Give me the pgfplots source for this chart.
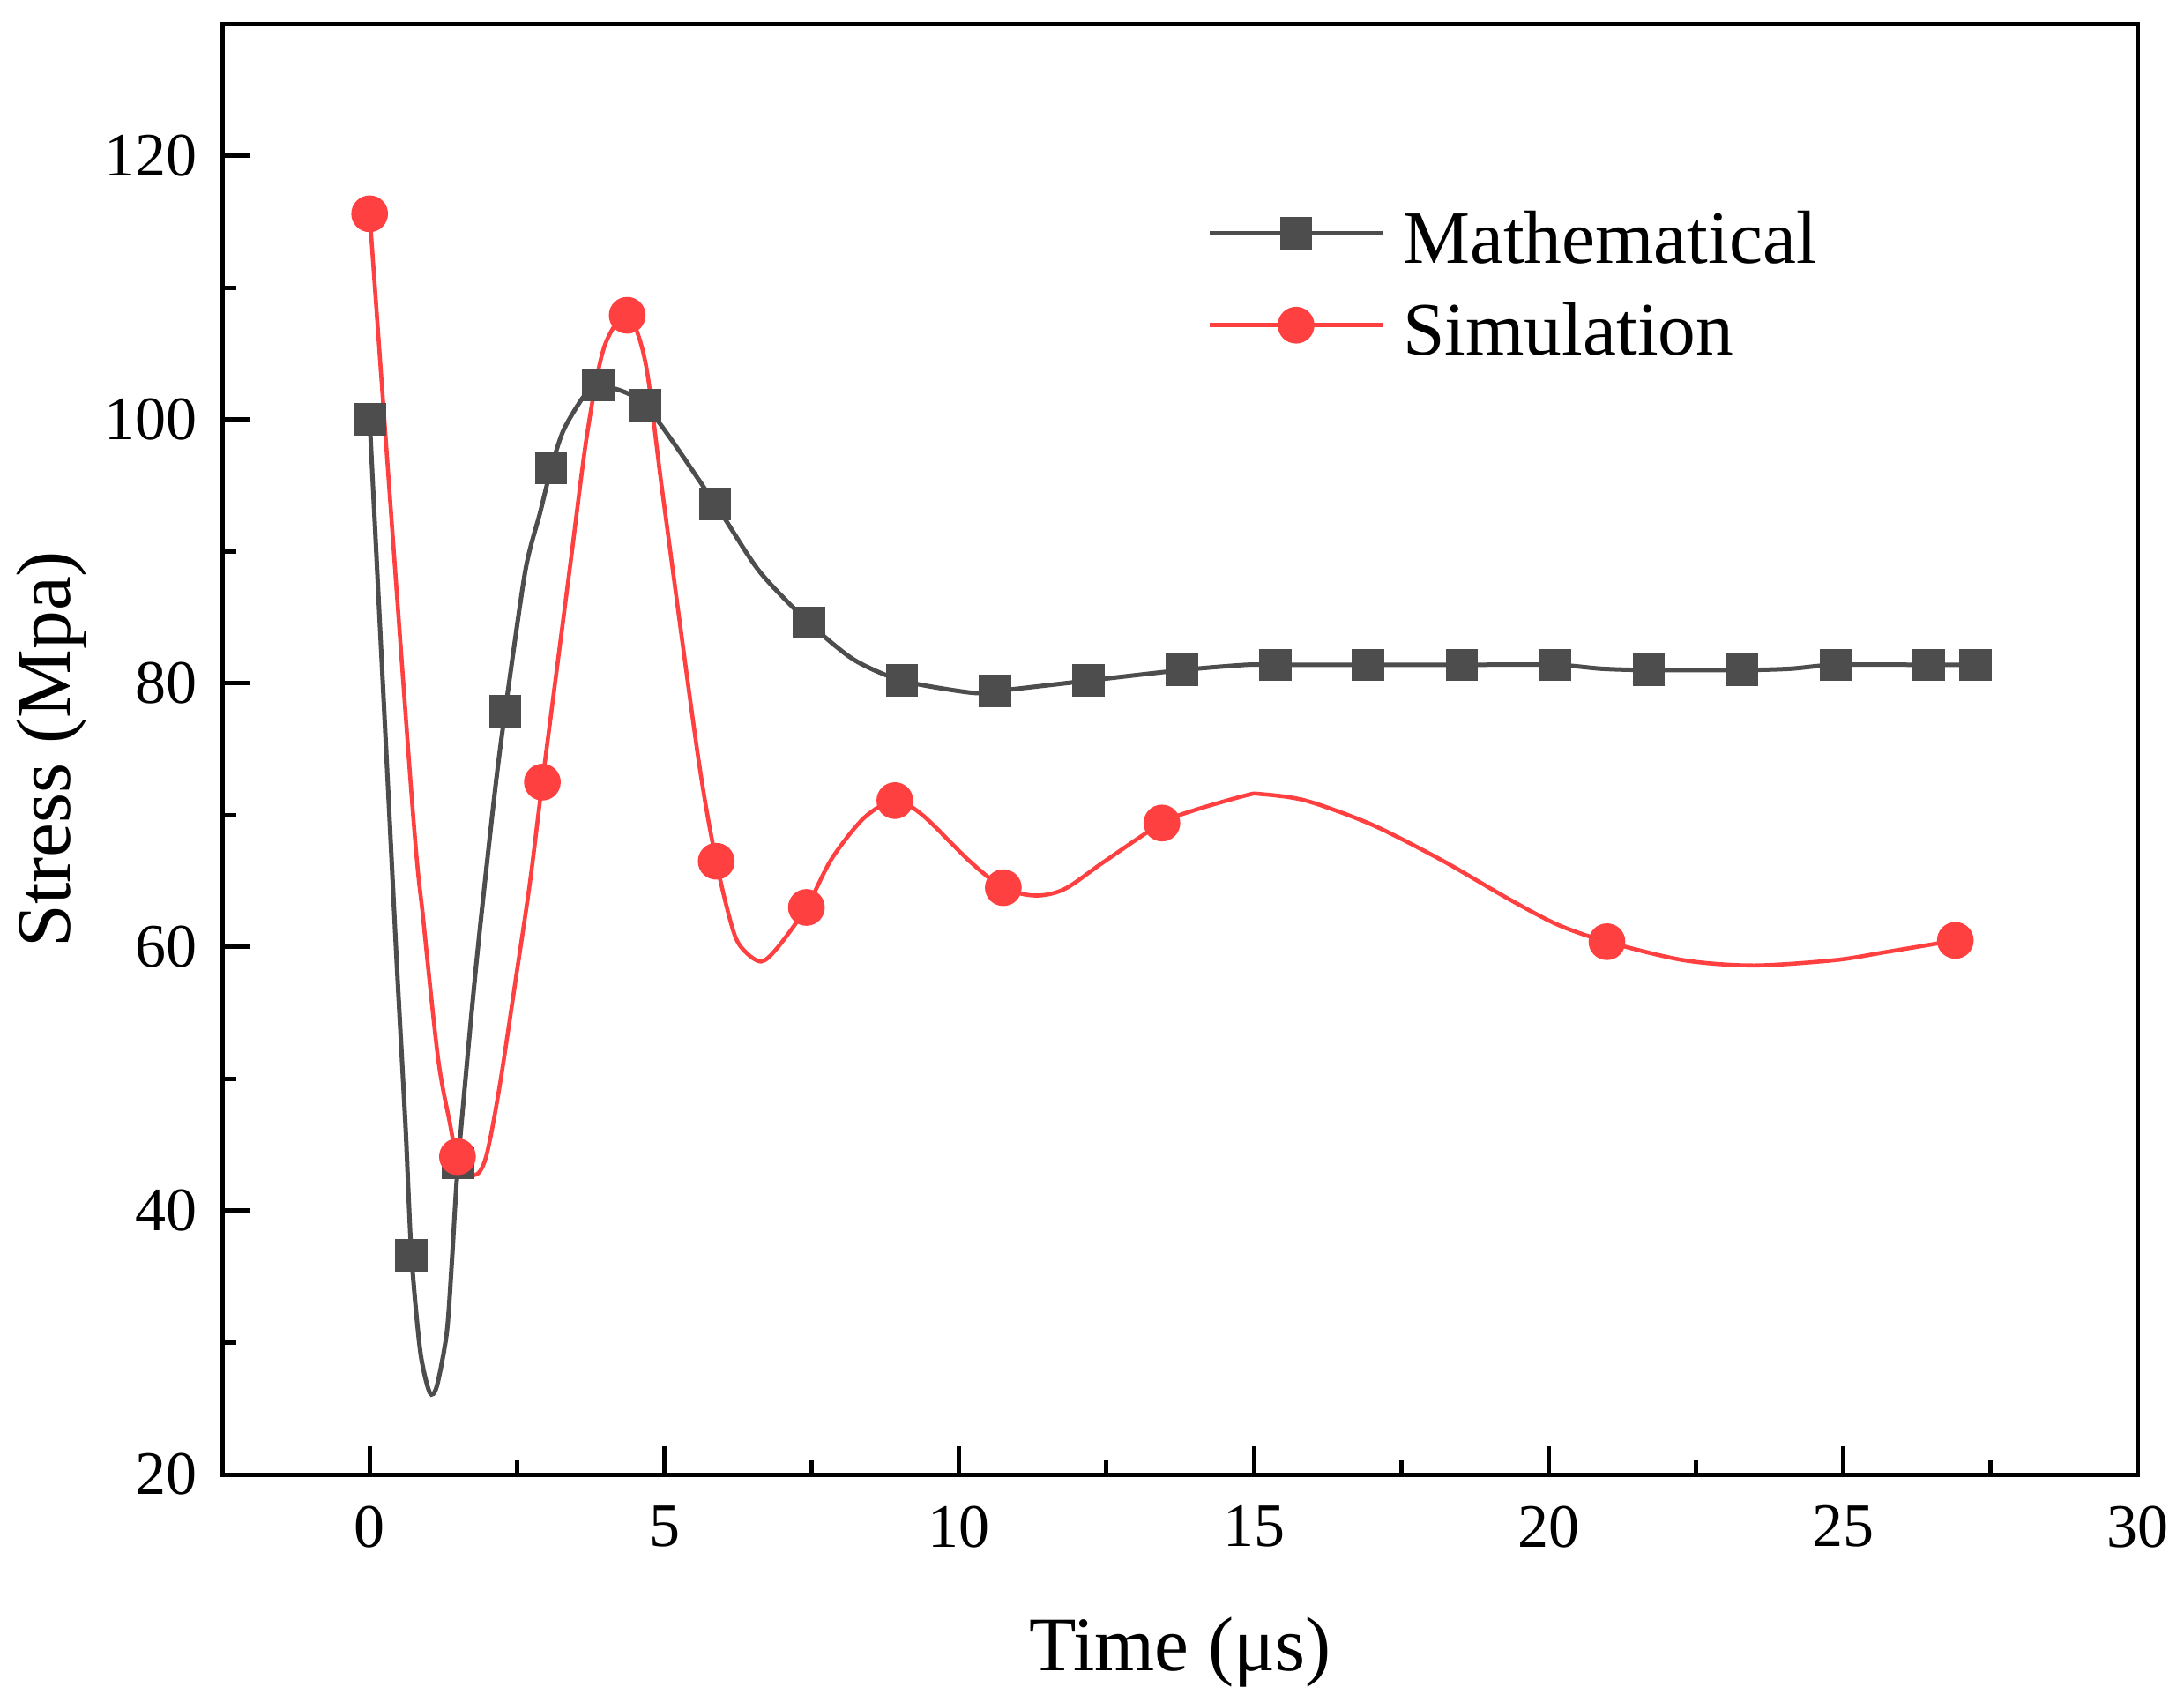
\documentclass[border=0pt]{standalone}
\usepackage{fontspec}
\setmainfont{Liberation Serif}
\usepackage{pgfplots}
\pgfplotsset{compat=1.18}
\definecolor{mgray}{RGB}{77,77,77}
\definecolor{mred}{RGB}{255,64,64}
\pgfplotsset{
  mathleg/.style={legend image code/.code={\draw[mgray,line width=1.2pt] (0pt,6.7pt)--(47pt,6.7pt);
    \draw[##1] plot coordinates {(23.5pt,6.7pt)};}},
  simleg/.style={legend image code/.code={\draw[mred,line width=1.1pt] (0pt,6.7pt)--(47pt,6.7pt);
    \draw[##1] plot coordinates {(23.5pt,6.7pt)};}},
}
\begin{document}
\begin{tikzpicture}
\begin{axis}[name=ax,
  width=521.5pt, height=394.8pt, scale only axis,
  xmin=-2.5, xmax=30, ymin=20, ymax=130,
  xtick={0,5,...,30}, ytick={20,40,...,120},
  minor x tick num=1, minor y tick num=1,
  tick pos=left, tick align=inside,
  major tick length=7.7pt, minor tick length=3.9pt,
  axis line style={line width=1.2pt},
  every tick/.append style={line width=1.2pt, black},
  /pgf/number format/assume math mode=true,
  xticklabel style={font=\fontsize{16.8}{20}\selectfont, yshift=-5pt},
  yticklabel style={font=\fontsize{16.8}{20}\selectfont, xshift=-3.4pt},
  xlabel={Time (μs)}, ylabel={Stress (Mpa)},
  label style={font=\fontsize{21}{25}\selectfont},
  xlabel style={at={([yshift=-53.5pt]axis description cs:0.5,0)}, anchor=base},
  ylabel style={at={([xshift=-41.5pt]axis description cs:0,0.5)}, anchor=base},
  legend style={draw=none, fill=none, at={(0.5139,0.8708)}, anchor=north west,
    inner sep=0pt, row sep=0pt, column sep=5.0pt,
    font=\fontsize{20.5}{24}\selectfont,
    nodes={inner sep=0pt, text height=14pt, text depth=11pt}},
  legend cell align=left,
]
% Mathematical line
\addplot[mgray, line width=1.2pt, smooth, tension=0.45, forget plot] coordinates {
(0,100) (0.31,72.3) (0.46,58.8) (0.61,46.3) (0.71,36.6) (0.86,29.3) (1.02,26.2)
(1.14,26.7) (1.31,30.8) (1.40,36.5) (1.50,43.6) (1.80,58.3) (2.12,71.6) (2.30,77.9)
(2.64,88.5) (2.89,92.9) (3.08,96.3) (3.29,99.2) (3.64,101.8) (3.88,102.6)
(4.67,101.1) (5.86,93.6) (6.61,88.5) (7.45,84.6) (8.21,81.8) (9.03,80.2) (10.18,79.3)
(10.61,79.4) (12.19,80.2) (13.78,81.0) (14.87,81.4) (15.37,81.4) (16.94,81.4) (18.53,81.4)
(20.11,81.4) (20.9,81.1) (21.70,81.0) (23.28,81.0) (24.1,81.1) (24.87,81.4) (26.45,81.4) (27.24,81.4)
};
\addplot[only marks, mark=square*, mark size=4.2pt, mgray, mathleg] coordinates {
(0,100) (0.71,36.6) (1.50,43.6) (2.30,77.9) (3.08,96.3) (3.88,102.6) (4.67,101.1)
(5.86,93.6) (7.45,84.6) (9.03,80.2) (10.61,79.4) (12.19,80.2) (13.78,81.0) (15.37,81.4)
(16.94,81.4) (18.53,81.4) (20.11,81.4) (21.70,81.0) (23.28,81.0) (24.87,81.4) (26.45,81.4) (27.24,81.4)
};
\addlegendentry{Mathematical}
% Simulation line
\addplot[mred, line width=1.1pt, smooth, tension=0.5, forget plot] coordinates {
(0,115.6) (0.71,71.6) (0.91,62.1) (1.16,51.6) (1.35,46.9) (1.49,44.1) (1.77,42.7)
(1.97,44.0) (2.2,49.3) (2.5,58.2) (2.72,64.9) (2.93,72.5) (3.39,88.5) (3.69,98.9)
(3.98,105.5) (4.37,107.9) (4.68,104.3) (4.97,94.4) (5.57,74.5) (5.88,66.5)
(6.17,61.2) (6.36,59.7) (6.64,58.9) (6.91,59.9) (7.41,63.0) (7.84,66.7)
(8.39,69.8) (8.91,71.1) (9.38,70.0) (10.18,66.5) (10.75,64.5) (11.29,63.9)
(11.79,64.4) (12.47,66.5) (13.44,69.4) (14.01,70.4) (14.87,71.5) (15.11,71.6) (15.88,71.1)
(16.99,69.3) (18.18,66.6) (19.30,63.7) (20.15,61.7) (20.99,60.4) (22.29,59.0) (23.48,58.6)
(24.85,59.0) (25.70,59.6) (26.90,60.5)
};
\addplot[only marks, mark=*, mark size=4.8pt, mred, simleg] coordinates {
(0,115.6) (1.49,44.1) (2.93,72.5) (4.37,107.9) (5.88,66.5) (7.41,63.0) (8.91,71.1)
(10.75,64.5) (13.44,69.4) (20.99,60.4) (26.90,60.5)
};
\addlegendentry{Simulation}
\end{axis}
\pgfresetboundingbox
\path[use as bounding box] ([xshift=-60.5pt,yshift=-61.7pt]ax.south west) rectangle ([xshift=12.5pt,yshift=6.5pt]ax.north east);
\end{tikzpicture}
\end{document}
